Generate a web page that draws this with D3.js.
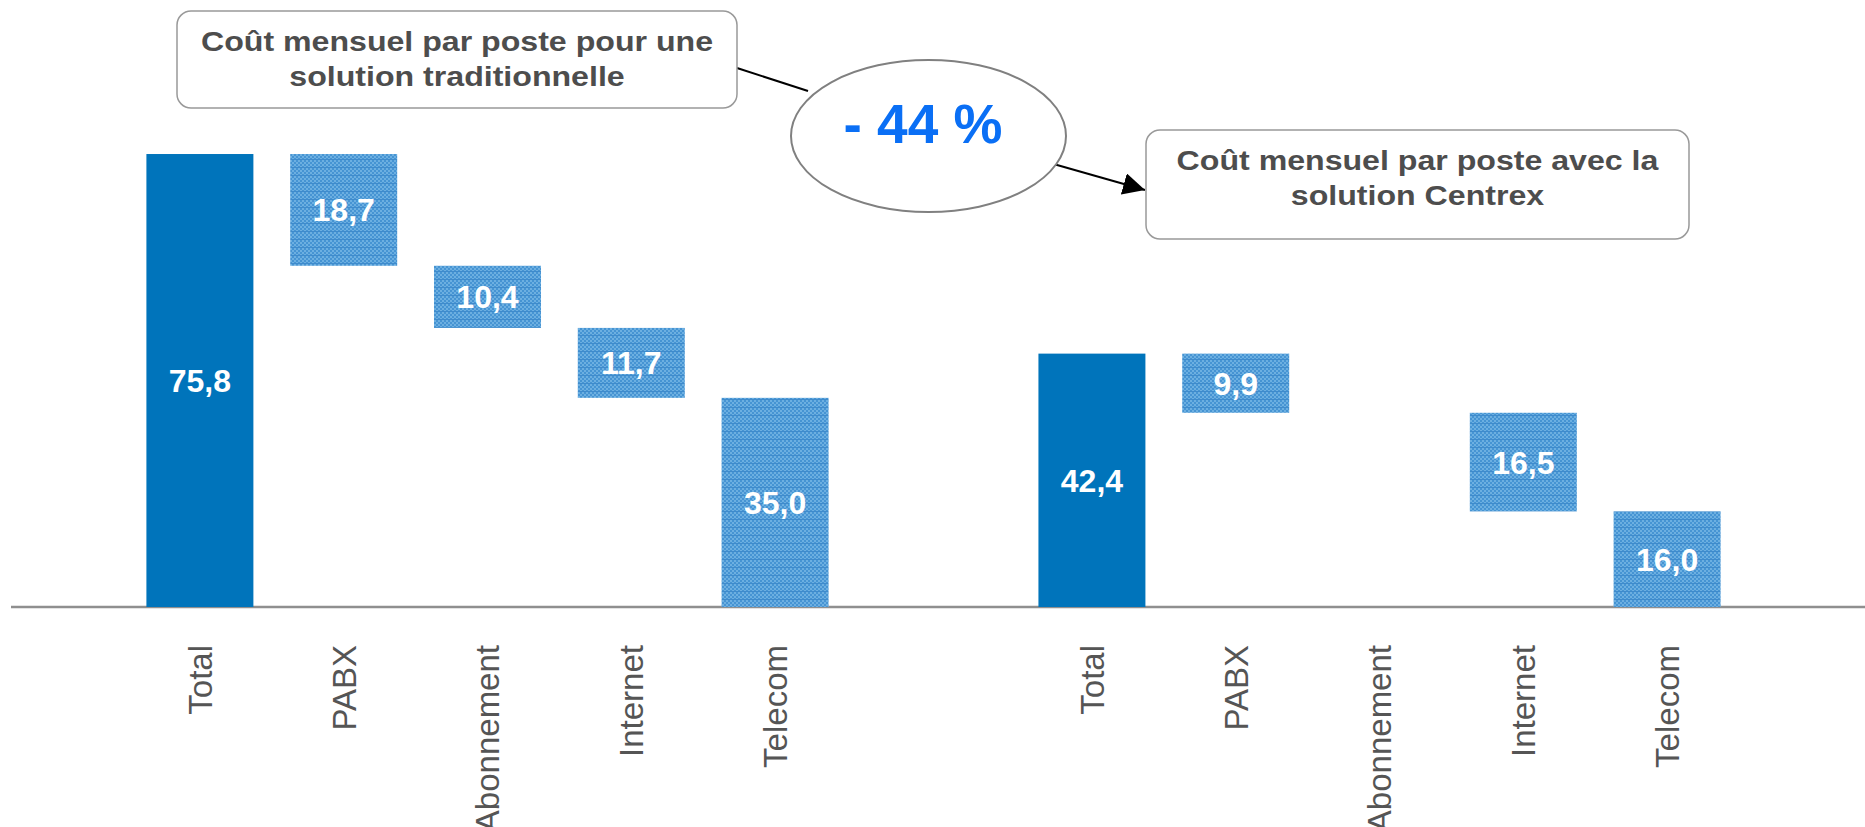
<!DOCTYPE html>
<html>
<head>
<meta charset="utf-8">
<script src="https://cdn.jsdelivr.net/npm/d3@7"></script>
<style>
  body { margin: 0; background: #fff; }
  text { font-family: "Liberation Sans", Arial, sans-serif; }
</style>
</head>
<body>
<div id="chart"></div>
<script>
// Données
const groups = ["traditionnelle", "Centrex"]
const categories = ["Total", "PABX", "Abonnement", "Internet", "Telecom"]
const tradValues = [75.8, 18.7, 10.4, 11.7, 35.0]
const centrexValues = [42.4, 9.9, 0, 16.5, 16.0]
const groupTitles = [
    ["Coût mensuel par poste pour une", "solution traditionnelle"],
    ["Coût mensuel par poste avec la", "solution Centrex"]
]
const reduction = "- 44 %"

const width = 1865
const height = 827
const baseline = 607

const fr = d3.formatLocale({decimal: ",", thousands: " ", grouping: [3], currency: ["", " €"]})
const fmt = fr.format(".1f")

// Construction de la cascade : le total puis chaque poste qui descend
function waterfall(group, values) {
    let running = values[0]
    return values.map((v, i) => {
        if (i === 0) return {group, cat: categories[i], value: v, y0: 0, y1: v, total: true}
        const row = {group, cat: categories[i], value: v, y0: running - v, y1: running, total: false}
        running -= v
        return row
    })
}
const rows = waterfall(groups[0], tradValues).concat(waterfall(groups[1], centrexValues))

const svg = d3.select("#chart").append("svg").attr("width", width).attr("height", height)

// Motif tramé pour les postes
const pat = svg.append("defs").append("pattern")
    .attr("id", "trame")
    .attr("width", 4).attr("height", 8)
    .attr("patternUnits", "userSpaceOnUse")
pat.append("rect").attr("width", 4).attr("height", 8).attr("fill", "#6cafe1")
;[[0,0],[2,2],[0,4],[2,6]].forEach(p => {
    pat.append("rect").attr("x", p[0]).attr("y", p[1]).attr("width", 2).attr("height", 2).attr("fill", "#4694d3")
})
pat.append("rect").attr("y", 7).attr("width", 4).attr("height", 1).attr("fill", "#3f8bcc")

// Echelles
const xGroup = d3.scaleBand().domain(groups).range([128, 1739]).paddingInner(0.194)
const xInner = d3.scaleBand().domain(categories).range([0, xGroup.bandwidth()])
    .paddingInner(0.256).paddingOuter(0.128)
const x = d => xGroup(d.group) + xInner(d.cat)
const y = d3.scaleLinear().domain([0, 80]).range([baseline, baseline - 80 * 5.976])

// Axe horizontal
svg.append("line")
    .attr("x1", 11).attr("x2", width)
    .attr("y1", y(0)).attr("y2", y(0))
    .attr("stroke", "#8f8f8f").attr("stroke-width", 2.5)

// Barres
const bars = svg.append("g").selectAll("g").data(rows.filter(d => d.value > 0)).join("g")
bars.append("rect")
    .attr("x", d => x(d))
    .attr("y", d => y(d.y1))
    .attr("width", xInner.bandwidth())
    .attr("height", d => y(d.y0) - y(d.y1))
    .attr("fill", d => d.total ? "#0074bb" : "url(#trame)")
bars.append("text")
    .text(d => fmt(d.value))
    .attr("x", d => x(d) + xInner.bandwidth() / 2)
    .attr("y", d => (y(d.y0) + y(d.y1)) / 2)
    .attr("dy", "0.36em")
    .attr("text-anchor", "middle")
    .attr("fill", "#fff")
    .attr("font-weight", "bold")
    .attr("font-size", 32)

// Libellés des catégories (verticaux)
svg.append("g").selectAll("text").data(rows).join("text")
    .text(d => d.cat)
    .attr("transform", d => `translate(${x(d) + xInner.bandwidth() / 2},645) rotate(-90)`)
    .attr("dy", "0.36em")
    .attr("text-anchor", "end")
    .attr("fill", "#555")
    .attr("font-size", 33)

// Connecteurs vers l'ellipse
const notes = svg.append("g")
notes.append("defs").append("marker")
    .attr("id", "fleche")
    .attr("viewBox", "0 0 10 10")
    .attr("refX", 10).attr("refY", 5)
    .attr("markerWidth", 22).attr("markerHeight", 22)
    .attr("markerUnits", "userSpaceOnUse")
    .attr("orient", "auto")
    .append("path").attr("d", "M0,0L10,5L0,10z").attr("fill", "#000")

notes.append("line")
    .attr("x1", 737).attr("y1", 68).attr("x2", 808).attr("y2", 91)
    .attr("stroke", "#000").attr("stroke-width", 2)
notes.append("line")
    .attr("x1", 1050).attr("y1", 163).attr("x2", 1145).attr("y2", 190)
    .attr("stroke", "#000").attr("stroke-width", 2)
    .attr("marker-end", "url(#fleche)")

notes.append("ellipse")
    .attr("cx", 928.5).attr("cy", 136).attr("rx", 137.5).attr("ry", 76)
    .attr("fill", "#fff").attr("stroke", "#808080").attr("stroke-width", 2)
notes.append("text")
    .text(reduction)
    .attr("x", 923).attr("y", 143)
    .attr("text-anchor", "middle")
    .attr("fill", "#0a6ff5")
    .attr("font-weight", "bold")
    .attr("font-size", 55)

// Encadrés de titre
const boxes = [
    {x: 177, y: 11, w: 560, h: 97, lines: groupTitles[0]},
    {x: 1146, y: 130, w: 543, h: 109, lines: groupTitles[1]}
]
const box = notes.selectAll("g.box").data(boxes).join("g").attr("class", "box")
box.append("rect")
    .attr("x", d => d.x).attr("y", d => d.y)
    .attr("width", d => d.w).attr("height", d => d.h)
    .attr("rx", 14)
    .attr("fill", "#fff").attr("stroke", "#999").attr("stroke-width", 1.5)
box.each(function(d) {
    d3.select(this).selectAll("text").data(d.lines).join("text")
        .text(t => t)
        .attr("transform", (t, i) => `translate(${d.x + d.w / 2},${d.y + 39.5 + i * 35.5}) scale(1.19,1)`)
        .attr("text-anchor", "middle")
        .attr("fill", "#4d4d4d")
        .attr("font-weight", "bold")
        .attr("font-size", 27)
})
</script>
</body>
</html>
